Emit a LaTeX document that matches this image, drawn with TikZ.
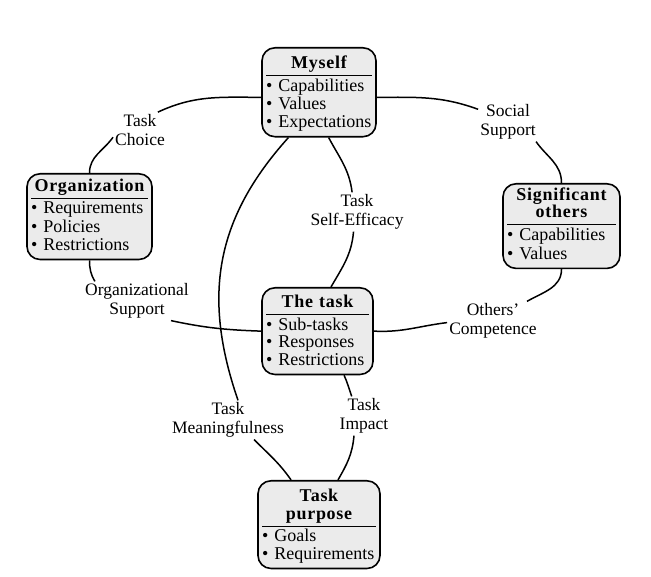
\documentclass[tikz,border=0pt]{standalone}
\usepackage{fontspec}
\setmainfont{Liberation Serif}
\newfontfamily\titlefont[LetterSpace=4]{Liberation Serif}
\newcommand{\bitem}[1]{\strut\textbullet\hspace{6pt}#1\par}
\newcommand{\boxbody}[3]{%
  \parindent=0pt
  {\centering\titlefont\bfseries\rule{0pt}{#1}#2\strut\par}%
  \vspace{1pt}\hrule height 1.2pt\vspace{2.5pt}%
  \raggedright #3}
\begin{document}
\begin{tikzpicture}[x=1pt,y=1pt,
  pbox/.style={draw, line width=1.6pt, fill=black!8, rounded corners=13pt,
    inner xsep=4pt, inner ysep=4pt, anchor=north,
    font=\fontsize{18}{17.5}\selectfont},
  lab/.style={align=center, inner sep=2pt, font=\fontsize{17.5}{19}\selectfont},
  conn/.style={line width=1.5pt}]
\useasboundingbox (0,0) rectangle (651,577);
% boxes
\node[pbox, text width=106pt] (myself) at (319,530)
  {\boxbody{17pt}{Myself}{\bitem{Capabilities}\bitem{Values}\bitem{Expectations}}};
\node[pbox, text width=117pt] (organization) at (89.5,404)
  {\boxbody{14pt}{Organization}{\bitem{Requirements}\bitem{Policies}\bitem{Restrictions}}};
\node[pbox, text width=109pt] (significant) at (561.5,394)
  {\boxbody{11pt}{Significant\\others}{\bitem{Capabilities}\bitem{Values}}};
\node[pbox, text width=103pt] (thetask) at (317.5,290)
  {\boxbody{16pt}{The task}{\bitem{Sub-tasks}\bitem{Responses}\bitem{Restrictions}}};
\node[pbox, text width=114pt] (taskpurpose) at (319,97)
  {\boxbody{17pt}{Task\\purpose}{\bitem{Goals}\bitem{Requirements}}};
% labels
\node[lab] (choice) at (140,447) {Task\\Choice};
\node[lab] (orgsup) at (137,276) {Organizational\\Support};
\node[lab] (social) at (508,455) {Social\\Support};
\node[lab] (compet) at (493,256) {Others'\\Competence};
\node[lab] (selfeff) at (357,365) {Task\\Self-Efficacy};
\node[lab] (meaning) at (228,157) {Task\\Meaningfulness};
\node[lab] (impact) at (364,161) {Task\\Impact};
% connectors
\draw[conn] (myself.185) to[out=180,in=25] (choice.45);
\draw[conn] (choice.195) to[out=235,in=90] (organization.north);
\draw[conn] (organization.south) to[out=270,in=120] (orgsup.155);
\draw[conn] (orgsup.-30) to[out=-12,in=178] (thetask.west);
\draw[conn] (myself.-5) to[out=0,in=160] (social.157);
\draw[conn] (social.-35) to[out=-55,in=90] (significant.north);
\draw[conn] (significant.south) to[out=270,in=30] (compet.30);
\draw[conn] (compet.182) to[out=187,in=-3] (thetask.east);
\draw[conn] (myself.236) to[out=228,in=109,looseness=1.05] (meaning.63);
\draw[conn] (meaning.-37) to[out=-45,in=125] (taskpurpose.122);
\draw[conn] (myself.-78) to[out=-62,in=97] (selfeff.104);
\draw[conn] (selfeff.-100) to[out=-95,in=60] (thetask.73);
\draw[conn] (thetask.-59) to[out=-65,in=110] (impact.122);
\draw[conn] (impact.-117) to[out=-95,in=60] (taskpurpose.67);
\end{tikzpicture}
\end{document}
